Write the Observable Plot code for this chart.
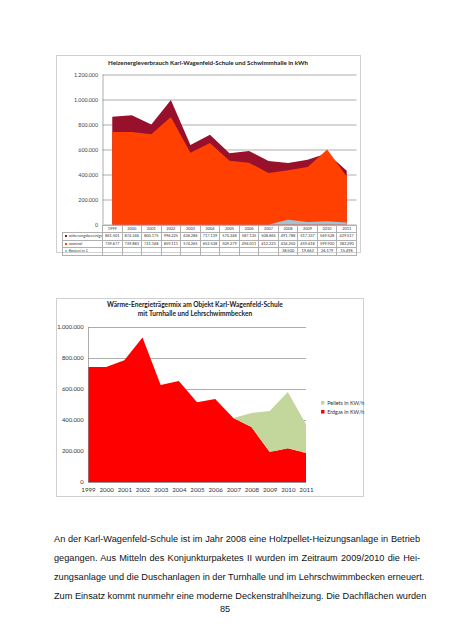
<!DOCTYPE html>
<html><head><meta charset="utf-8">
<script src="https://cdn.jsdelivr.net/npm/d3@7"></script>
<script src="https://cdn.jsdelivr.net/npm/@observablehq/plot@0.6"></script>
<style>
html,body{margin:0;padding:0;background:#fff;}
body{width:452px;height:640px;position:relative;overflow:hidden;font-family:"Liberation Sans",Arial,sans-serif;color:#000;}
.frame{position:absolute;border:0.8px solid #d0d0d0;box-sizing:border-box;background:#fff;}
.title{position:absolute;font-family:Lato,"Liberation Sans",sans-serif;font-weight:bold;color:#222;text-align:center;white-space:nowrap;}
table.dt{position:absolute;border-collapse:collapse;table-layout:fixed;font-family:Lato,"Liberation Sans",sans-serif;font-size:3.9px;color:#333;}
table.dt td{border:0.6px solid #b0b0b0;padding:0;height:6.5px;line-height:6px;text-align:center;overflow:hidden;white-space:nowrap;}
table.dt td.rh{text-align:left;padding-left:2px;}
table.dt td.blank{border:none;}
.mk{display:inline-block;width:2.2px;height:2.2px;margin-right:1.5px;vertical-align:middle;}
.para div{text-align:justify;text-align-last:justify;white-space:nowrap;height:19px;line-height:19px;}
.lg-swatch{white-space:nowrap;}
</style>
</head><body>
<script>
// ---------- data ----------
const years = [1999,2000,2001,2002,2003,2004,2005,2006,2007,2008,2009,2010,2011];
const witterungsbereinigt = [861501,874246,800175,996225,636286,717139,570248,587135,508865,491788,517337,569528,429517];
const nominal = [739677,739883,721168,859111,574265,652538,509279,494011,412223,434250,459618,599920,383290];
const kosten = [null,null,null,null,null,null,null,null,null,38500,19663,26179,15496];
const seriesNames1 = ["witterungsbereinigt","nominal","Kosten in €"];
const title1 = "Heizenergieverbrauch Karl-Wagenfeld-Schule und Schwimmhalle in kWh";

const erdgas = [742000,742000,785000,933000,626000,652000,514000,535000,413000,355000,194000,218000,187000];
const pellets = [0,0,0,0,0,0,0,0,0,90000,264000,362000,185000];
const seriesNames2 = ["Pellets in KW/h","Erdgas in KW/h"];
const title2 = ["Wärme-Energieträgermix am Objekt Karl-Wagenfeld-Schule","mit Turnhalle und Lehrschwimmbecken"];

const paragraph = [
  "An der Karl-Wagenfeld-Schule ist im Jahr 2008 eine Holzpellet-Heizungsanlage in Betrieb",
  "gegangen. Aus Mitteln des Konjunkturpaketes II wurden im Zeitraum 2009/2010 die Hei-",
  "zungsanlage und die Duschanlagen in der Turnhalle und im Lehrschwimmbecken erneuert.",
  "Zum Einsatz kommt nunmehr eine moderne Deckenstrahlheizung. Die Dachflächen wurden"
];
const pageNumber = "85";

// ---------- styles ----------
const C_W = "#98102b", C_N = "#ff4000", C_K = "#9fc4d6";
const C_PEL = "#c3d69b", C_GAS = "#ff0000";
const de = d3.formatLocale({decimal:",", thousands:".", grouping:[3], currency:["","€"]});
const fmt = de.format(",d");

function el(tag, cls, css, parent){ const e=document.createElement(tag); if(cls) e.className=cls; Object.assign(e.style, css||{}); (parent||document.body).appendChild(e); return e; }

// ---------- chart 1 ----------
el("div","frame",{left:"55.5px",top:"55px",width:"305px",height:"198px"});
const t1 = el("div","title",{left:"55.5px",top:"58px",width:"305px",fontSize:"6.2px",lineHeight:"10px"});
t1.textContent = title1;

const rows1 = years.map((y,i)=>({year:y, w:witterungsbereinigt[i], n:nominal[i], k:kosten[i]}));
const x1dom = [years[0]-0.5, years[years.length-1]+0.5];
const c1 = Plot.plot({
  width: 305, height: 164,
  marginLeft: 46.5, marginRight: 4.5, marginTop: 8.5, marginBottom: 5.5,
  style:{fontFamily:"Lato, 'Liberation Sans', sans-serif", fontSize:"5.3px", color:"#444", background:"transparent", overflow:"visible"},
  x:{domain:x1dom, axis:null},
  y:{domain:[0,1200000], axis:null},
  marks:[
    Plot.gridY({ticks:6, stroke:"#8a8a8a", strokeOpacity:1, strokeWidth:0.7}),
    Plot.areaY(rows1,{x:"year", y:"w", fill:C_W}),
    Plot.areaY(rows1,{x:"year", y:"n", fill:C_N}),
    Plot.areaY(rows1,{x:"year", y:d=>d.k ?? 0, fill:C_K}),
    Plot.ruleX([x1dom[0]],{stroke:"#8a8a8a", strokeWidth:0.7}),
    Plot.axisY({ticks:6, tickSize:0, tickPadding:5, tickFormat:fmt, label:null})
  ]
});
Object.assign(c1.style,{position:"absolute", left:"55.5px", top:"66px"});
document.body.appendChild(c1);

// data table under chart 1
const tbl = el("table","dt",{left:"62px",top:"224.5px",width:"294px"});
const cg = document.createElement("colgroup"); tbl.appendChild(cg);
el("col",null,{width:"40px"},cg);
years.forEach(()=>el("col",null,{width:(254/years.length)+"px"},cg));
const trh = el("tr",null,{},tbl);
el("td","blank",{},trh);
years.forEach(y=>{ el("td",null,{},trh).textContent = y; });
const series1 = [witterungsbereinigt, nominal, kosten];
const cols1 = [C_W, C_N, C_K];
series1.forEach((s,j)=>{
  const tr = el("tr",null,{},tbl);
  const h = el("td","rh",{},tr);
  el("span","mk",{background:cols1[j]},h);
  h.appendChild(document.createTextNode(seriesNames1[j]));
  s.forEach(v=>{ el("td",null,{},tr).textContent = v==null ? "" : fmt(v); });
});

// ---------- chart 2 ----------
el("div","frame",{left:"56px",top:"298px",width:"308px",height:"199px"});
const t2 = el("div","title",{left:"56px",top:"300px",width:"278px",fontSize:"6.6px",lineHeight:"9px"});
t2.innerHTML = title2.join("<br>");

const rows2 = [];
years.forEach((y,i)=>{
  rows2.push({year:y, v:erdgas[i], s:seriesNames2[1]});
  rows2.push({year:y, v:pellets[i], s:seriesNames2[0]});
});
const c2 = Plot.plot({
  width: 308, height: 177,
  marginLeft: 32, marginRight: 58, marginTop: 7, marginBottom: 15,
  style:{fontFamily:"Lato, 'Liberation Sans', sans-serif", fontSize:"5.8px", color:"#333", background:"transparent", overflow:"visible"},
  x:{domain:[years[0], years[years.length-1]], axis:null},
  y:{domain:[0,1000000], axis:null},
  color:{domain:seriesNames2, range:[C_PEL, C_GAS]},
  marks:[
    Plot.gridY({ticks:5, stroke:"#8a8a8a", strokeOpacity:1, strokeWidth:0.7}),
    Plot.areaY(rows2, Plot.stackY({x:"year", y:"v", z:"s", fill:"s", order:seriesNames2.slice().reverse()})),
    Plot.ruleX([years[0]],{stroke:"#8a8a8a", strokeWidth:0.7}),
    Plot.ruleY([0],{stroke:"#8a8a8a", strokeWidth:0.7}),
    Plot.axisY({ticks:5, tickSize:0, tickPadding:5, tickFormat:fmt, label:null}),
    Plot.axisX({ticks:years, tickSize:0, tickPadding:5, tickFormat:d=>String(d), fontSize:6.2, label:null})
  ]
});
Object.assign(c2.style,{position:"absolute", left:"56px", top:"320px"});
document.body.appendChild(c2);

const lg = Plot.legend({
  color:{domain:seriesNames2, range:[C_PEL, C_GAS]},
  legend:"swatches", swatchSize:3.5, className:"lg",
  style:{fontSize:"5.4px", color:"#333", fontFamily:"Lato, 'Liberation Sans', sans-serif", background:"transparent"}
});
Object.assign(lg.style,{position:"absolute", left:"321px", top:"400px", width:"42px", margin:"0", display:"flex", flexDirection:"column", rowGap:"3px", minHeight:"0"});
document.body.appendChild(lg);

// ---------- page text ----------
const para = el("div","para",{position:"absolute",left:"54px",top:"530px",width:"366px",fontSize:"9.2px",color:"#111"});
paragraph.forEach(line=>{ el("div",null,{},para).textContent = line; });
const pn = el("div",null,{position:"absolute",left:"205px",top:"604px",width:"40px",textAlign:"center",fontSize:"9.2px",color:"#111"});
pn.textContent = pageNumber;
</script>
</body></html>
